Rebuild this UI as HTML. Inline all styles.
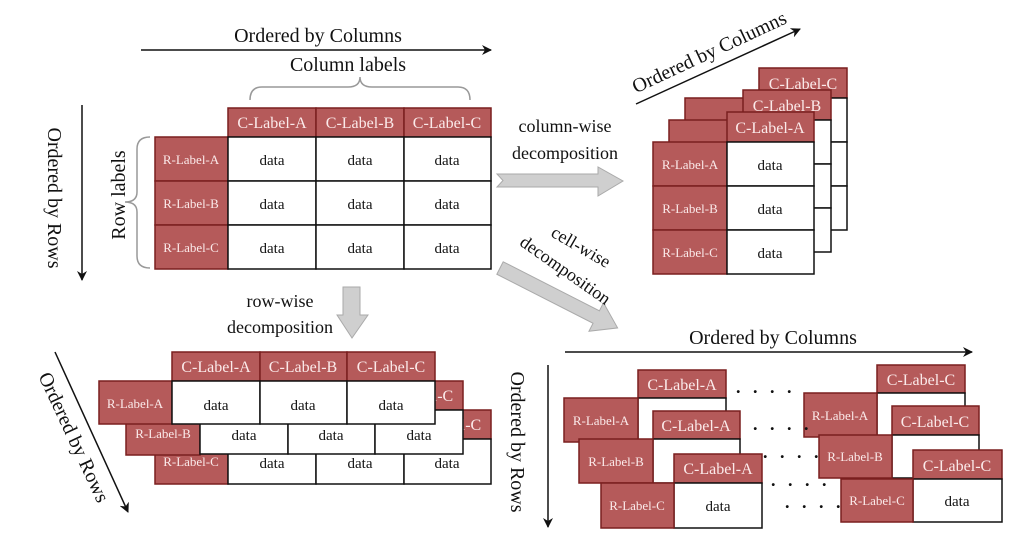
<!DOCTYPE html>
<html><head><meta charset="utf-8"><style>
html,body{margin:0;padding:0;background:#fff}
svg{display:block}
text{font-family:"Liberation Serif",serif;fill:#111}
.r{fill:#b55a5a;stroke:#7a1f1f;stroke-width:1.5}
.w{fill:#fff;stroke:#111;stroke-width:1.5}
.lc{fill:#fbeaea;font-size:16px;text-anchor:middle}
.lr{fill:#fbeaea;font-size:13px;text-anchor:middle}
.d{font-size:15px;text-anchor:middle}
.t{font-size:20px;text-anchor:middle}
.g{fill:#cfcfcf;stroke:#aaa;stroke-width:1}
</style></head><body>
<svg width="1024" height="537" viewBox="0 0 1024 537" xmlns="http://www.w3.org/2000/svg">
<defs><marker id="ah" markerWidth="10" markerHeight="10" refX="9" refY="5" orient="auto" markerUnits="userSpaceOnUse"><path d="M0,0 L10,5 L0,10 L3,5 z" fill="#111"/></marker></defs>

<text class="t" x="318" y="42">Ordered by Columns</text>
<line x1="141" y1="50" x2="491" y2="50" stroke="#111" stroke-width="1.5" marker-end="url(#ah)"/>
<text class="t" x="348" y="71">Column labels</text>
<path d="M250,100 Q250,87 262,87 L348,87 Q360,87 360,77 Q360,87 372,87 L458,87 Q470,87 470,100" fill="none" stroke="#999" stroke-width="1.5"/>
<text class="t" transform="translate(48,198) rotate(90)">Ordered by Rows</text>
<line x1="82" y1="105" x2="82" y2="280" stroke="#111" stroke-width="1.5" marker-end="url(#ah)"/>
<text class="t" transform="translate(125,195) rotate(-90)">Row labels</text>
<path d="M150,137 Q137,137 137,149 L137,192 Q137,202 125,202 Q137,202 137,212 L137,256 Q137,268 150,268" fill="none" stroke="#999" stroke-width="1.5"/>

<rect class="r" x="228" y="108" width="88" height="29"/><rect class="r" x="316" y="108" width="88" height="29"/><rect class="r" x="404" y="108" width="87" height="29"/>
<text class="lc" x="272" y="128">C-Label-A</text><text class="lc" x="360" y="128">C-Label-B</text><text class="lc" x="447" y="128">C-Label-C</text>
<rect class="r" x="155" y="137" width="73" height="44"/><rect class="r" x="155" y="181" width="73" height="44"/><rect class="r" x="155" y="225" width="73" height="44"/>
<text class="lr" x="191" y="164">R-Label-A</text><text class="lr" x="191" y="208">R-Label-B</text><text class="lr" x="191" y="252">R-Label-C</text>
<g class="w"><rect x="228" y="137" width="88" height="44"/><rect x="316" y="137" width="88" height="44"/><rect x="404" y="137" width="87" height="44"/>
<rect x="228" y="181" width="88" height="44"/><rect x="316" y="181" width="88" height="44"/><rect x="404" y="181" width="87" height="44"/>
<rect x="228" y="225" width="88" height="44"/><rect x="316" y="225" width="88" height="44"/><rect x="404" y="225" width="87" height="44"/></g>
<text class="d" x="272" y="165">data</text><text class="d" x="360" y="165">data</text><text class="d" x="447" y="165">data</text>
<text class="d" x="272" y="209">data</text><text class="d" x="360" y="209">data</text><text class="d" x="447" y="209">data</text>
<text class="d" x="272" y="253">data</text><text class="d" x="360" y="253">data</text><text class="d" x="447" y="253">data</text>

<polygon class="g" points="497,174 598,174 598,167 623,181 598,196 598,187 497,187 503,180.5"/>
<text class="t" x="565" y="132" style="font-size:18px">column-wise</text>
<text class="t" x="565" y="159" style="font-size:18px">decomposition</text>
<polygon class="g" points="343,287 360,287 360,315 368,315 352,338 337,315 343,315"/>
<text class="t" x="280" y="307" style="font-size:18px">row-wise</text>
<text class="t" x="280" y="333" style="font-size:18px">decomposition</text>
<polygon class="g" transform="translate(500,268) rotate(27)" points="0,-7 108,-7 108,-16 132,0 108,16 108,7 0,7"/>
<text class="t" style="font-size:18px" transform="translate(578,252) rotate(30)">cell-wise</text>
<text class="t" style="font-size:18px" transform="translate(562,275) rotate(35)">decomposition</text>

<text class="t" transform="translate(712,58) rotate(-25)">Ordered by Columns</text>
<line x1="636" y1="104" x2="800" y2="29" stroke="#111" stroke-width="1.5" marker-end="url(#ah)"/>
<rect class="r" x="685" y="98" width="74" height="44"/><rect class="r" x="685" y="142" width="74" height="44"/><rect class="r" x="685" y="186" width="74" height="44"/>
<rect class="r" x="759" y="68" width="88" height="30"/><text class="lc" x="803" y="89">C-Label-C</text>
<g class="w"><rect x="759" y="98" width="88" height="44"/><rect x="759" y="142" width="88" height="44"/><rect x="759" y="186" width="88" height="44"/></g>
<rect class="r" x="669" y="120" width="74" height="44"/><rect class="r" x="669" y="164" width="74" height="44"/><rect class="r" x="669" y="208" width="74" height="44"/>
<rect class="r" x="743" y="90" width="88" height="30"/><text class="lc" x="787" y="111">C-Label-B</text>
<g class="w"><rect x="743" y="120" width="88" height="44"/><rect x="743" y="164" width="88" height="44"/><rect x="743" y="208" width="88" height="44"/></g>
<rect class="r" x="653" y="142" width="74" height="44"/><rect class="r" x="653" y="186" width="74" height="44"/><rect class="r" x="653" y="230" width="74" height="44"/>
<text class="lr" x="690" y="169">R-Label-A</text><text class="lr" x="690" y="213">R-Label-B</text><text class="lr" x="690" y="257">R-Label-C</text>
<rect class="r" x="727" y="112" width="87" height="30"/><text class="lc" x="770" y="133">C-Label-A</text>
<g class="w"><rect x="727" y="142" width="87" height="44"/><rect x="727" y="186" width="87" height="44"/><rect x="727" y="230" width="87" height="44"/></g>
<text class="d" x="770" y="170">data</text><text class="d" x="770" y="214">data</text><text class="d" x="770" y="258">data</text>

<text class="t" transform="translate(68,440) rotate(65)">Ordered by Rows</text>
<line x1="55" y1="352" x2="128" y2="512" stroke="#111" stroke-width="1.5" marker-end="url(#ah)"/>
<rect class="r" x="228" y="410" width="88" height="29"/><rect class="r" x="316" y="410" width="88" height="29"/><rect class="r" x="404" y="410" width="87" height="29"/>
<text class="lc" x="447" y="430">C-Label-C</text>
<rect class="r" x="155" y="439" width="73" height="45"/><text class="lr" x="191" y="466">R-Label-C</text>
<g class="w"><rect x="228" y="439" width="88" height="45"/><rect x="316" y="439" width="88" height="45"/><rect x="404" y="439" width="87" height="45"/></g>
<text class="d" x="272" y="468">data</text><text class="d" x="360" y="468">data</text><text class="d" x="447" y="468">data</text>
<rect class="r" x="200" y="381" width="88" height="29"/><rect class="r" x="288" y="381" width="87" height="29"/><rect class="r" x="375" y="381" width="88" height="29"/>
<text class="lc" x="419" y="401">C-Label-C</text>
<rect class="r" x="126" y="410" width="74" height="45"/><text class="lr" x="163" y="438">R-Label-B</text>
<g class="w"><rect x="200" y="410" width="88" height="44"/><rect x="288" y="410" width="87" height="44"/><rect x="375" y="410" width="88" height="44"/></g>
<text class="d" x="244" y="440">data</text><text class="d" x="331" y="440">data</text><text class="d" x="419" y="440">data</text>
<rect class="r" x="172" y="352" width="88" height="29"/><rect class="r" x="260" y="352" width="87" height="29"/><rect class="r" x="347" y="352" width="88" height="29"/>
<text class="lc" x="216" y="372">C-Label-A</text><text class="lc" x="303" y="372">C-Label-B</text><text class="lc" x="391" y="372">C-Label-C</text>
<rect class="r" x="99" y="381" width="73" height="43"/><text class="lr" x="135" y="408">R-Label-A</text>
<g class="w"><rect x="172" y="381" width="88" height="43"/><rect x="260" y="381" width="87" height="43"/><rect x="347" y="381" width="88" height="43"/></g>
<text class="d" x="216" y="410">data</text><text class="d" x="303" y="410">data</text><text class="d" x="391" y="410">data</text>

<text class="t" x="773" y="344">Ordered by Columns</text>
<line x1="565" y1="352" x2="972" y2="352" stroke="#111" stroke-width="1.5" marker-end="url(#ah)"/>
<text class="t" transform="translate(511,442) rotate(90)">Ordered by Rows</text>
<line x1="548" y1="365" x2="548" y2="527" stroke="#111" stroke-width="1.5" marker-end="url(#ah)"/>

<rect class="r" x="638" y="370" width="88" height="28"/><text class="lc" x="682" y="390">C-Label-A</text>
<rect class="w" x="638" y="398" width="88" height="44"/>
<rect class="r" x="564" y="398" width="74" height="44"/><text class="lr" x="601" y="425">R-Label-A</text>
<rect class="r" x="653" y="411" width="87" height="28"/><text class="lc" x="696" y="431">C-Label-A</text>
<rect class="w" x="653" y="439" width="87" height="44"/>
<rect class="r" x="579" y="439" width="74" height="44"/><text class="lr" x="616" y="466">R-Label-B</text>
<rect class="r" x="674" y="454" width="88" height="29"/><text class="lc" x="718" y="474">C-Label-A</text>
<rect class="w" x="674" y="483" width="88" height="45"/><text class="d" x="718" y="511">data</text>
<rect class="r" x="601" y="483" width="73" height="45"/><text class="lr" x="637" y="510">R-Label-C</text>

<rect class="r" x="877" y="365" width="88" height="28"/><text class="lc" x="921" y="385">C-Label-C</text>
<rect class="w" x="877" y="393" width="88" height="44"/>
<rect class="r" x="804" y="393" width="73" height="44"/><text class="lr" x="840" y="420">R-Label-A</text>
<rect class="r" x="892" y="406" width="87" height="29"/><text class="lc" x="935" y="427">C-Label-C</text>
<rect class="w" x="892" y="435" width="87" height="43"/>
<rect class="r" x="819" y="435" width="73" height="43"/><text class="lr" x="855" y="461">R-Label-B</text>
<rect class="r" x="913" y="450" width="89" height="29"/><text class="lc" x="957" y="471">C-Label-C</text>
<rect class="w" x="913" y="479" width="89" height="43"/><text class="d" x="957" y="506">data</text>
<rect class="r" x="841" y="479" width="72" height="43"/><text class="lr" x="877" y="505">R-Label-C</text>

<g style="font-weight:bold">
<text x="736" y="393" style="font-size:18px;letter-spacing:4px">. . . .</text>
<text x="753" y="430" style="font-size:18px;letter-spacing:4px">. . . .</text>
<text x="763" y="458" style="font-size:18px;letter-spacing:4px">. . . .</text>
<text x="771" y="486" style="font-size:18px;letter-spacing:4px">. . . .</text>
<text x="785" y="508" style="font-size:18px;letter-spacing:4px">. . . .</text>
</g>
</svg>
</body></html>
